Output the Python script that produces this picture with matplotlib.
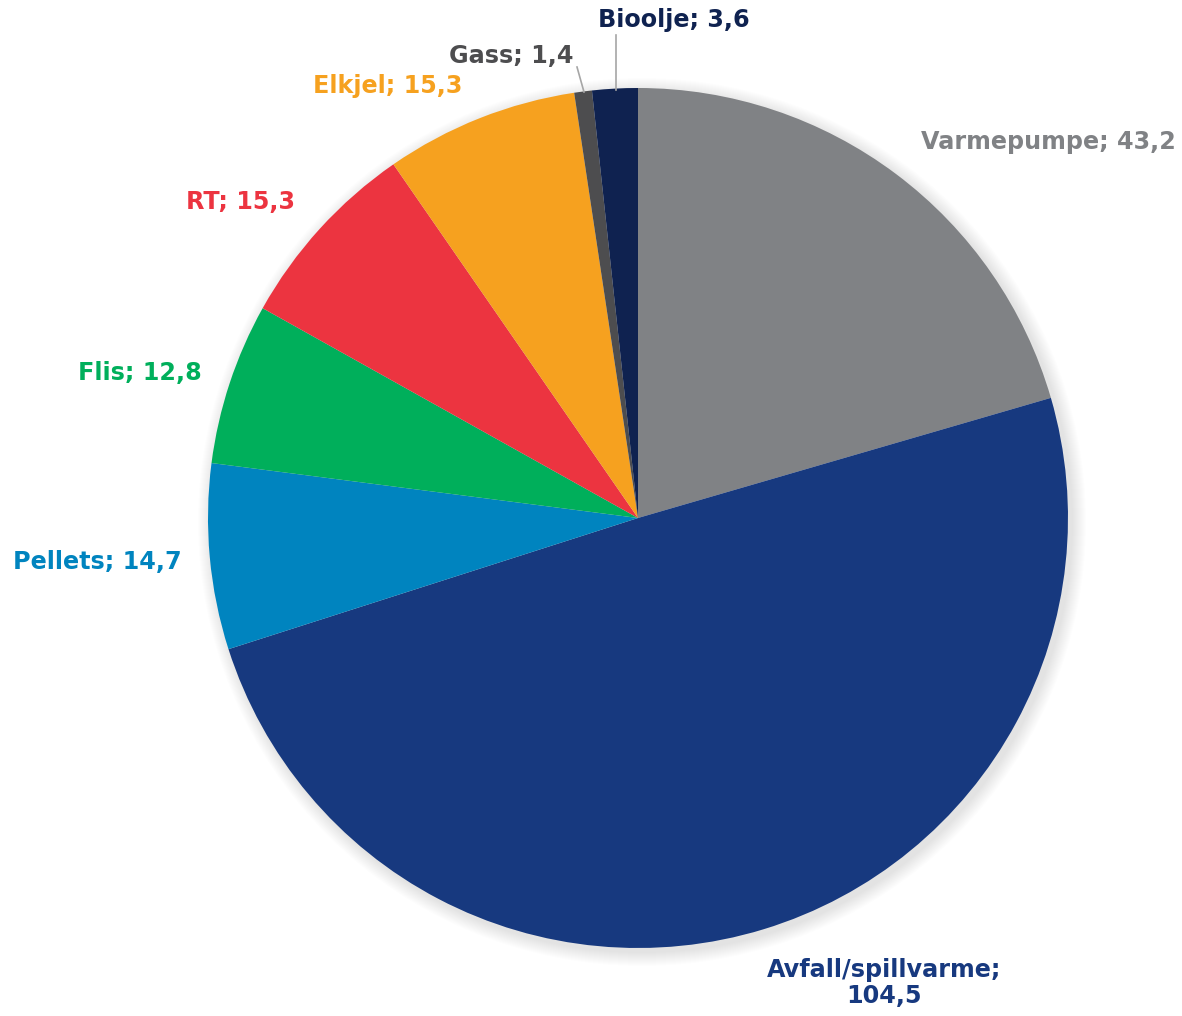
import matplotlib.pyplot as plt
import numpy as np

labels = ['Varmepumpe', 'Avfall/spillvarme', 'Pellets', 'Flis', 'RT', 'Elkjel', 'Gass', 'Bioolje']
values = [43.2, 104.5, 14.7, 12.8, 15.3, 15.3, 1.4, 3.6]
colors = ['#808285', '#17397F', '#0084BF', '#00AF5B', '#EC3440', '#F6A11F', '#4D4D4F', '#0F2250']

fig = plt.figure(figsize=(11.82, 10.16), dpi=100)
ax = fig.add_axes([0, 0, 1, 1])
ax.set_xlim(0, 1182)
ax.set_ylim(0, 1016)
ax.set_aspect('equal')
ax.axis('off')

cx, cy, r = 638, 498, 430

# soft shadow
for i in range(14):
    c = plt.Circle((cx + 4, cy - 4), r + 14 - i, color='black', alpha=0.006, lw=0)
    ax.add_patch(c)

ax.pie(values, colors=colors, startangle=90, counterclock=False,
       center=(cx, cy), radius=r, frame=True,
       wedgeprops=dict(linewidth=0))
ax.set_xlim(0, 1182)
ax.set_ylim(0, 1016)
ax.axis('off')

txt = ['Varmepumpe; 43,2', 'Avfall/spillvarme;\n104,5', 'Pellets; 14,7', 'Flis; 12,8',
       'RT; 15,3', 'Elkjel; 15,3', 'Gass; 1,4', 'Bioolje; 3,6']
pos = [(1048, 874), (884, 1016 - 983), (97, 1016 - 562), (140, 1016 - 373),
       (240, 1016 - 202), (388, 1016 - 86), (511, 1016 - 56), (674, 1016 - 20)]
for t, (x, y), c in zip(txt, pos, colors):
    ax.text(x, y, t, ha='center', va='center', fontsize=17.2, fontweight='bold',
            color=c, linespacing=1.1)

# leader lines
ax.plot([577, 584], [1016 - 67, 1016 - 92], color='#A6A6A6', lw=1.2)
ax.plot([616, 616], [1016 - 35, 1016 - 90], color='#A6A6A6', lw=1.2)

fig.savefig('out.png', dpi=100)
